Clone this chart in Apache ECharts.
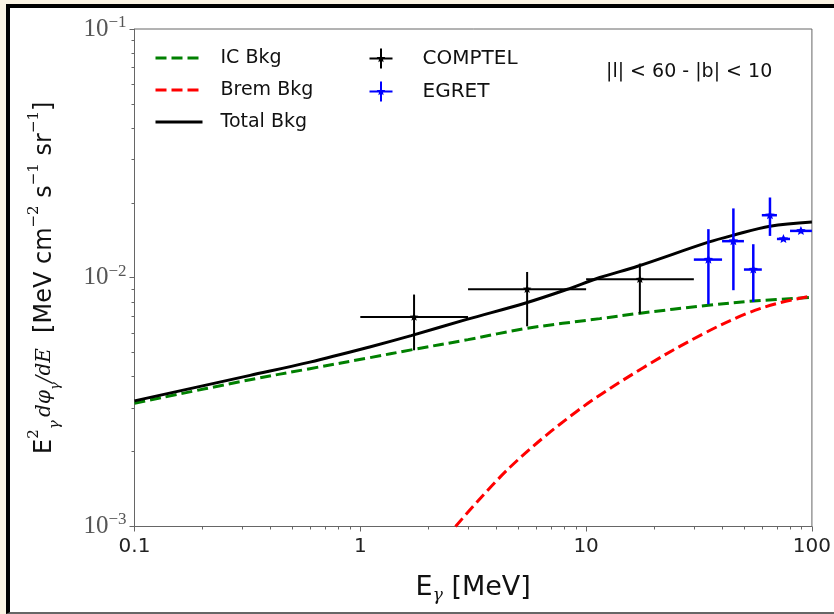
<!DOCTYPE html>
<html>
<head>
<meta charset="utf-8">
<script src="https://cdn.jsdelivr.net/npm/echarts@6/dist/echarts.min.js"></script>
<style>
html,body{margin:0;padding:0;width:834px;height:614px;overflow:hidden;background:#faf3e3;}
#frame{position:absolute;left:6px;top:4px;width:900px;height:604px;background:#fff;border-left:4px solid #000;border-top:4px solid #000;border-bottom:2px solid #666;}
#chart{position:absolute;left:0;top:0;width:834px;height:614px;}
</style>
</head>
<body>
<div id="frame"></div>
<div id="chart"></div>
<script>
// ---------------- data ----------------
const xTickValues = [0.1, 1, 10, 100];
const xTickLabels = ['0.1', '1', '10', '100'];
const xMinorTicks = [0.2,0.3,0.4,0.5,0.6,0.7,0.8,0.9, 2,3,4,5,6,7,8,9, 20,30,40,50,60,70,80,90];
const yTickValues = [0.001, 0.01, 0.1];
const yTickExponents = ['−3', '−2', '−1'];
const yMinorTicks = [0.002,0.003,0.004,0.005,0.006,0.007,0.008,0.009, 0.02,0.03,0.04,0.05,0.06,0.07,0.08,0.09];

// IC background (green dashed)
const icE    = [0.1, 0.325, 0.598, 1.1, 1.68, 3.0, 5.4, 11.5, 16.9, 34.8, 55, 100];
const icFlux = [3.13e-3, 3.89e-3, 4.31e-3, 4.77e-3, 5.13e-3, 5.64e-3, 6.25e-3, 6.85e-3, 7.18e-3, 7.75e-3, 8.06e-3, 8.34e-3];

// Bremsstrahlung background (red dashed)
const bremE    = [2.64, 4.6, 9.08, 17.9, 33, 51.4, 69.8, 100];
const bremFlux = [1.0e-3, 1.73e-3, 2.90e-3, 4.35e-3, 5.95e-3, 7.18e-3, 7.87e-3, 8.45e-3];

// Total background (black solid)
const totE    = [0.1, 0.325, 0.598, 1.1, 1.68, 2.96, 5.4, 8.2, 11.5, 16.9, 34.8, 44.9, 65.2, 100];
const totFlux = [3.20e-3, 4.05e-3, 4.58e-3, 5.27e-3, 5.85e-3, 6.80e-3, 7.92e-3, 8.97e-3, 1.002e-2, 1.112e-2, 1.390e-2, 1.483e-2, 1.611e-2, 1.675e-2];

// COMPTEL data
const comptelE      = [1.73, 5.48, 17.3];
const comptelELo    = [1, 3, 10];
const comptelEHi    = [3, 10, 30];
const comptelFlux   = [6.95e-3, 8.99e-3, 9.86e-3];
const comptelFluxLo = [5.11e-3, 6.38e-3, 7.17e-3];
const comptelFluxHi = [8.56e-3, 1.055e-2, 1.14e-2];

// EGRET data
const egretE      = [34.8, 44.9, 55.0, 65.2, 74.8, 89.4];
const egretELo    = [30, 40, 50, 60, 70, 80];
const egretEHi    = [40, 50, 60, 70, 80, 100];
const egretFlux   = [0.01183, 0.01403, 0.01079, 0.01784, 0.01432, 0.01543];
const egretFluxLo = [7.82e-3, 8.91e-3, 7.99e-3, 0.01473, 0.01405, 0.01515];
const egretFluxHi = [0.01568, 0.0190, 0.01364, 0.02102, 0.01460, 0.01570];

// ---------------- helpers ----------------
function pairs(xs, ys) { return xs.map((x, i) => [x, ys[i]]); }
function errRows(x, xlo, xhi, y, ylo, yhi) {
  return x.map((v, i) => [v, y[i], xlo[i], xhi[i], ylo[i], yhi[i]]);
}
function starPts(cx, cy, R, r) {
  const pts = [];
  for (let k = 0; k < 10; k++) {
    const a = -Math.PI / 2 + k * Math.PI / 5;
    const rad = (k % 2 === 0) ? R : r;
    pts.push([cx + rad * Math.cos(a), cy + rad * Math.sin(a)]);
  }
  return pts;
}
function makeErrRender(color, lw, R) {
  return function (params, api) {
    const x = api.value(0), y = api.value(1);
    const c = api.coord([x, y]);
    const l = api.coord([api.value(2), y]);
    const r = api.coord([api.value(3), y]);
    const b = api.coord([x, api.value(4)]);
    const t = api.coord([x, api.value(5)]);
    return {
      type: 'group',
      children: [
        { type: 'line', shape: { x1: l[0], y1: c[1], x2: r[0], y2: c[1] }, style: { stroke: color, lineWidth: lw } },
        { type: 'line', shape: { x1: c[0], y1: t[1], x2: c[0], y2: b[1] }, style: { stroke: color, lineWidth: lw } },
        { type: 'polygon', shape: { points: starPts(c[0], c[1], R, R * 0.45) }, style: { fill: color } }
      ]
    };
  };
}
function crossIcon() {
  const s = starPts(11.5, 10, 4.5, 2).map(p => p[0].toFixed(2) + ',' + p[1].toFixed(2));
  return 'path://M0,9L23,9L23,11L0,11Z M10.5,0L12.5,0L12.5,20L10.5,20Z M' + s.join('L') + 'Z';
}
function tickIndex(v, arr) {
  for (let i = 0; i < arr.length; i++) {
    if (Math.abs(Math.log10(v) - Math.log10(arr[i])) < 1e-6) return i;
  }
  return -1;
}

const tickColor = '#666';
const sans = 'DejaVu Sans';
const dash = [11, 5];

const chart = echarts.init(document.getElementById('chart'));
chart.setOption({
  animation: false,
  backgroundColor: 'transparent',
  grid: { left: 134.5, right: 22, top: 29, bottom: 87.5, show: true, borderColor: tickColor, borderWidth: 1, backgroundColor: 'transparent' },
  xAxis: [
    {
      type: 'log', logBase: 10, min: 0.1, max: 100, position: 'bottom',
      name: '{e|E}{sub|γ}{e| [MeV]}',
      nameLocation: 'middle', nameGap: 44,
      nameTextStyle: {
        rich: {
          e: { fontSize: 27, fontFamily: sans, color: '#111', lineHeight: 34 },
          sub: { fontSize: 17, fontFamily: 'DejaVu Serif', fontStyle: 'italic', color: '#111', lineHeight: 14, verticalAlign: 'bottom' }
        }
      },
      axisLine: { lineStyle: { color: tickColor, width: 1 } },
      axisTick: { customValues: xTickValues, length: 5, lineStyle: { color: tickColor } },
      axisLabel: {
        customValues: xTickValues, margin: 10, fontSize: 20, fontFamily: sans, color: '#222',
        formatter: v => xTickLabels[tickIndex(v, xTickValues)]
      },
      splitLine: { show: false }
    },
    {
      type: 'log', logBase: 10, min: 0.1, max: 100, position: 'bottom',
      axisLine: { show: false },
      axisTick: { customValues: xMinorTicks, length: 3, lineStyle: { color: tickColor } },
      axisLabel: { show: false },
      splitLine: { show: false }
    }
  ],
  yAxis: [
    {
      type: 'log', logBase: 10, min: 0.001, max: 0.1, position: 'left',
      name: '{e|E}{sup|2}{sub|γ} {f|dφ}{fs|γ}{f|/dE}{e|  [MeV cm}{sup|−2}{e| s}{sup|−1}{e| sr}{sup|−1}{e|]}',
      nameLocation: 'middle', nameGap: 72,
      nameTextStyle: {
        rich: {
          e: { fontSize: 24, fontFamily: sans, color: '#111', lineHeight: 36 },
          sup: { fontSize: 15, fontFamily: 'DejaVu Serif', color: '#111', lineHeight: 16, verticalAlign: 'top' },
          sub: { fontSize: 15, fontFamily: 'DejaVu Serif', fontStyle: 'italic', color: '#111', lineHeight: 14, verticalAlign: 'bottom' },
          f: { fontSize: 20, fontFamily: 'DejaVu Serif', fontStyle: 'italic', color: '#111', lineHeight: 36 },
          fs: { fontSize: 13, fontFamily: 'DejaVu Serif', fontStyle: 'italic', color: '#111', lineHeight: 14, verticalAlign: 'bottom' }
        }
      },
      axisLine: { lineStyle: { color: tickColor, width: 1 } },
      axisTick: { customValues: yTickValues, length: 5, lineStyle: { color: tickColor } },
      axisLabel: {
        customValues: yTickValues, margin: 8,
        formatter: v => '{n|10}{s|' + yTickExponents[tickIndex(v, yTickValues)] + '}',
        rich: {
          n: { fontSize: 25, fontFamily: 'Liberation Serif', color: '#555', lineHeight: 30 },
          s: { fontSize: 17, fontFamily: 'Liberation Serif', color: '#555', lineHeight: 17, verticalAlign: 'top' }
        }
      },
      splitLine: { show: false }
    },
    {
      type: 'log', logBase: 10, min: 0.001, max: 0.1, position: 'left',
      axisLine: { show: false },
      axisTick: { customValues: yMinorTicks, length: 3, lineStyle: { color: tickColor } },
      axisLabel: { show: false },
      splitLine: { show: false }
    }
  ],
  legend: [
    {
      data: ['IC Bkg', 'Brem Bkg', 'Total Bkg'],
      orient: 'vertical', left: 154, top: 48, padding: 0,
      itemWidth: 47, itemHeight: 14, itemGap: 12, selectedMode: false,
      itemStyle: { opacity: 0 },
      lineStyle: { width: 3 },
      textStyle: { fontSize: 19, fontFamily: sans, color: '#111', lineHeight: 20, padding: [0, 0, 0, 13] }
    },
    {
      data: [{ name: 'COMPTEL', icon: crossIcon() }, { name: 'EGRET', icon: crossIcon() }],
      orient: 'vertical', left: 369.5, top: 48.5, padding: 0,
      itemWidth: 23, itemHeight: 20, itemGap: 13, selectedMode: false,
      textStyle: { fontSize: 20, fontFamily: sans, color: '#111', lineHeight: 20, padding: [0, 0, 0, 25] }
    }
  ],
  graphic: [
    { type: 'text', left: 606, top: 63, style: { text: '|l| < 60 - |b| < 10', font: '19px "DejaVu Sans"', fill: '#111' } }
  ],
  series: [
    {
      name: 'IC Bkg', type: 'line', data: pairs(icE, icFlux), smooth: 0.35, symbol: 'none', z: 2,
      lineStyle: { color: '#008000', width: 3, type: dash }, itemStyle: { color: '#008000' }
    },
    {
      name: 'Brem Bkg', type: 'line', data: pairs(bremE, bremFlux), smooth: 0.35, symbol: 'none', z: 2,
      lineStyle: { color: '#ff0000', width: 3, type: dash }, itemStyle: { color: '#ff0000' }
    },
    {
      name: 'Total Bkg', type: 'line', data: pairs(totE, totFlux), smooth: 0.35, symbol: 'none', z: 3,
      lineStyle: { color: '#000000', width: 3 }, itemStyle: { color: '#000000' }
    },
    {
      name: 'COMPTEL', type: 'custom', z: 4,
      data: errRows(comptelE, comptelELo, comptelEHi, comptelFlux, comptelFluxLo, comptelFluxHi),
      encode: { x: [0, 2, 3], y: [1, 4, 5] },
      renderItem: makeErrRender('#000000', 2, 4.5),
      itemStyle: { color: '#000000' }
    },
    {
      name: 'EGRET', type: 'custom', z: 4,
      data: errRows(egretE, egretELo, egretEHi, egretFlux, egretFluxLo, egretFluxHi),
      encode: { x: [0, 2, 3], y: [1, 4, 5] },
      renderItem: makeErrRender('#0000ff', 2.5, 5),
      itemStyle: { color: '#0000ff' }
    }
  ]
});
</script>
</body>
</html>
